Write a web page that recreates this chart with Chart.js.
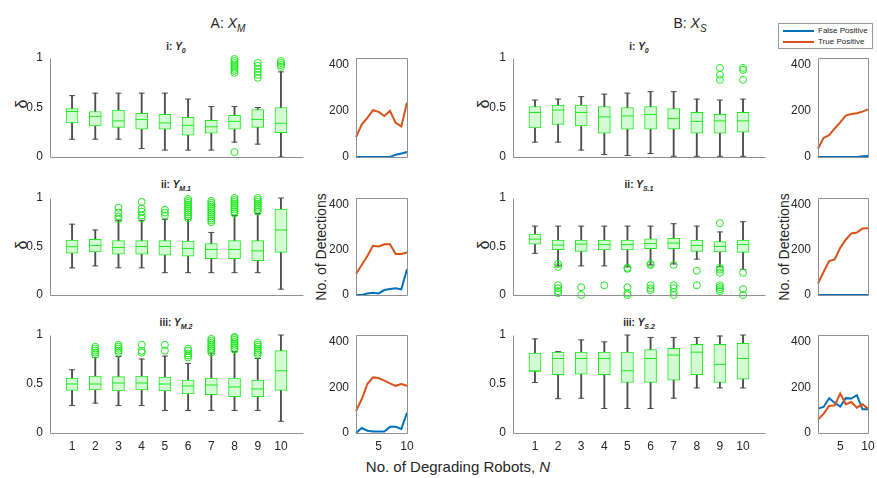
<!DOCTYPE html>
<html lang="en">
<head>
<meta charset="UTF-8">
<title>Degrading robots</title>
<script src="https://cdn.jsdelivr.net/npm/chart.js"></script>
<style>
  body { margin: 0; background: #fff; font-family: "Liberation Sans", Arial, sans-serif; color: #262626; }
  #fig { position: relative; width: 877px; height: 478px; overflow: hidden; }
  #fig canvas { position: absolute; }
  .txt { position: absolute; white-space: nowrap; line-height: 1; }
  .main { font-size: 14px; transform: translateX(-50%); }
  .sub { font-size: 10px; font-weight: bold; transform: translateX(-50%); }
  .rot { transform: translate(-50%, -50%) rotate(-90deg); }
  .legend { position: absolute; left: 778px; top: 23px; width: 93px; height: 24px; border: 1px solid #999; background: #fff; font-size: 8px; }
  .legend .row { position: absolute; left: 4px; height: 10px; }
  .legend .sw { position: absolute; left: 0; top: 4px; width: 31px; height: 2px; }
  .legend .lb { position: absolute; left: 35px; top: 0; white-space: nowrap; }
</style>
</head>
<body>
<div id="fig">
  <div class="txt main" style="left:228px; top:16px;">A: <i>X</i><sub style="font-size:10px"><i>M</i></sub></div>
  <div class="txt main" style="left:690px; top:16px;">B: <i>X</i><sub style="font-size:10px"><i>S</i></sub></div>

  <div class="txt sub" style="left:176px; top:42px;">i: <i>Y</i><sub style="font-size:7px"><i>0</i></sub></div>
  <div class="txt sub" style="left:176px; top:180px;">ii: <i>Y</i><sub style="font-size:7px"><i>M.1</i></sub></div>
  <div class="txt sub" style="left:176px; top:318px;">iii: <i>Y</i><sub style="font-size:7px"><i>M.2</i></sub></div>
  <div class="txt sub" style="left:639px; top:42px;">i: <i>Y</i><sub style="font-size:7px"><i>0</i></sub></div>
  <div class="txt sub" style="left:639px; top:180px;">ii: <i>Y</i><sub style="font-size:7px"><i>S.1</i></sub></div>
  <div class="txt sub" style="left:639px; top:318px;">iii: <i>Y</i><sub style="font-size:7px"><i>S.2</i></sub></div>

  <div class="txt rot" style="left:22px; top:104px; font-size:16px;">δ</div>
  <div class="txt rot" style="left:22px; top:245px; font-size:16px;">δ</div>
  <div class="txt rot" style="left:484px; top:104px; font-size:16px;">δ</div>
  <div class="txt rot" style="left:484px; top:245px; font-size:16px;">δ</div>

  <div class="txt rot" style="left:321px; top:247px; font-size:14px;">No. of Detections</div>
  <div class="txt rot" style="left:784px; top:247px; font-size:14px;">No. of Detections</div>

  <div class="txt" style="left:458px; top:459px; font-size:15px; transform:translateX(-50%);">No. of Degrading Robots, <i>N</i></div>

  <div class="legend">
    <div class="row" style="top:2px;"><div class="sw" style="background:#0072BD"></div><div class="lb">False Positive</div></div>
    <div class="row" style="top:13px;"><div class="sw" style="background:#D95319"></div><div class="lb">True Positive</div></div>
  </div>
</div>

<script>
    // number of degrading robots (x values of every panel)
    const robots = [1, 2, 3, 4, 5, 6, 7, 8, 9, 10];

    // box stats per N: [lower whisker, q1, median, q3, upper whisker]
    const boxA1 = [[0.18,0.345,0.46,0.49,0.62],[0.18,0.315,0.41,0.46,0.645],[0.18,0.30,0.365,0.475,0.645],[0.085,0.28,0.38,0.44,0.645],[0.07,0.28,0.345,0.43,0.645],
                   [0.07,0.22,0.32,0.40,0.585],[0.07,0.24,0.305,0.37,0.51],[0.15,0.28,0.36,0.42,0.51],[0.13,0.30,0.38,0.48,0.50],[0.0,0.245,0.34,0.50,0.86]];
    const boxA2 = [[0.28,0.43,0.497,0.565,0.73],[0.30,0.445,0.51,0.575,0.67],[0.28,0.42,0.49,0.56,0.77],[0.28,0.42,0.50,0.56,0.77],[0.23,0.41,0.50,0.56,0.78],
                   [0.23,0.40,0.48,0.555,0.78],[0.23,0.375,0.47,0.53,0.645],[0.23,0.375,0.47,0.56,0.82],[0.23,0.355,0.455,0.56,0.84],[0.06,0.44,0.67,0.885,1.0]];
    const boxA3 = [[0.28,0.435,0.50,0.56,0.645],[0.305,0.44,0.50,0.58,0.77],[0.28,0.43,0.51,0.575,0.78],[0.28,0.44,0.51,0.58,0.755],[0.23,0.43,0.50,0.57,0.785],
                   [0.23,0.40,0.48,0.54,0.71],[0.23,0.39,0.49,0.56,0.815],[0.23,0.37,0.47,0.56,0.83],[0.23,0.37,0.45,0.54,0.76],[0.12,0.435,0.635,0.84,1.0]];
    const boxB1 = [[0.15,0.295,0.45,0.51,0.575],[0.15,0.33,0.475,0.525,0.585],[0.07,0.315,0.45,0.525,0.61],[0.025,0.24,0.405,0.51,0.635],[0.015,0.28,0.415,0.50,0.645],
                   [0.035,0.28,0.43,0.51,0.66],[0.007,0.28,0.39,0.49,0.66],[0.007,0.24,0.36,0.45,0.585],[0.007,0.24,0.365,0.43,0.575],[0.007,0.25,0.365,0.45,0.585]];
    const boxB2 = [[0.43,0.525,0.576,0.627,0.71],[0.30,0.468,0.515,0.566,0.71],[0.30,0.45,0.525,0.566,0.71],[0.30,0.465,0.52,0.566,0.71],[0.29,0.465,0.52,0.566,0.71],
                   [0.31,0.478,0.53,0.58,0.71],[0.32,0.478,0.535,0.583,0.735],[0.37,0.45,0.51,0.566,0.71],[0.29,0.445,0.50,0.55,0.65],[0.265,0.44,0.52,0.566,0.755]];
    const boxB3 = [[0.515,0.63,0.63,0.815,0.96],[0.35,0.595,0.76,0.825,0.83],[0.355,0.60,0.76,0.825,0.95],[0.25,0.595,0.76,0.825,0.93],[0.25,0.515,0.635,0.825,1.0],
                   [0.25,0.515,0.76,0.85,0.975],[0.355,0.54,0.795,0.865,0.975],[0.46,0.595,0.825,0.905,0.975],[0.46,0.515,0.70,0.905,0.99],[0.46,0.55,0.76,0.915,1.0]];

    // outliers per N
    const outA1 = [[],[],[],[],[],[],[],[0.05,0.85,0.87,0.89,0.91,0.93,0.95,0.97,0.99],[0.80,0.83,0.86,0.89,0.92,0.95],[0.91,0.93,0.95,0.97]];
    const outA2 = [[],[],[0.78,0.81,0.85,0.90],[0.79,0.82,0.86,0.89,0.96],[0.82,0.85,0.88],[0.79,0.81,0.83,0.85,0.87,0.89,0.91,0.93,0.95,0.97,0.99],
                   [0.75,0.77,0.79,0.81,0.83,0.85,0.87,0.89,0.91,0.93,0.95,0.97],[0.84,0.86,0.88,0.90,0.92,0.94,0.96,0.98,1.0],[0.86,0.88,0.90,0.92,0.94,0.96,0.98,1.0],[]];
    const outA3 = [[],[0.80,0.82,0.84,0.86,0.88],[0.82,0.84,0.86,0.88,0.90],[0.82,0.84,0.90],[0.84,0.90],[0.77,0.79,0.81,0.84,0.86],
                   [0.82,0.84,0.86,0.88,0.90,0.92,0.94,0.96],[0.85,0.87,0.89,0.91,0.93,0.95,0.97,0.98],[0.80,0.82,0.84,0.86,0.88,0.90,0.92],[]];
    const outB1 = [[],[],[],[],[],[],[],[],[0.78,0.83,0.90],[0.78,0.88,0.90]];
    const outB2 = [[],[0.32,0.29,0.10,0.07,0.04,0.02],[0.08,0.0],[0.10],[0.28,0.27,0.08,0.02,0.0],[0.32,0.31,0.10,0.07,0.05],
                   [0.31,0.10,0.07,0.03,0.0],[0.25,0.10],[0.74,0.28,0.26,0.23,0.10,0.08,0.06,0.04],[0.23,0.06,0.0]];
    const outB3 = [[],[],[],[],[],[],[],[],[],[]];

    // number of detections per N
    const fpA1 = [0, 0, 0, 0, 0, 0, 0, 10, 15, 22];
    const tpA1 = [86, 141, 170, 203, 196, 178, 200, 148, 133, 237];
    const fpA2 = [0, 0, 7, 10, 7, 22, 27, 30, 25, 114];
    const tpA2 = [93, 133, 173, 218, 215, 225, 225, 182, 182, 188];
    const fpA3 = [0, 22, 10, 7, 7, 7, 27, 27, 18, 89];
    const tpA3 = [96, 148, 215, 244, 241, 230, 218, 207, 215, 207];
    const fpB1 = [0, 0, 0, 0, 0, 0, 0, 0, 3, 4];
    const tpB1 = [36, 83, 95, 124, 150, 180, 187, 190, 197, 207];
    const fpB2 = [0, 0, 0, 0, 0, 0, 0, 0, 0, 0];
    const tpB2 = [51, 102, 150, 158, 209, 245, 273, 277, 295, 296];
    const fpB3 = [107, 114, 153, 133, 116, 153, 151, 166, 104, 104];
    const tpB3 = [59, 84, 119, 121, 173, 126, 136, 111, 126, 107];

    const GREEN = '#1fe81f';
    const FILL = '#d4fcd4';
    const WHISK = '#4d4d4d';
    const AXIS = '#8f8f8f';
    const TICKFONT = { family: '"Liberation Sans", Arial, sans-serif', size: 12 };

    // canvas with fixed margins so the plot area lands where we want it
    function addCanvas(left, top, w, h) {
        const cv = document.createElement('canvas');
        cv.width = w + 54;
        cv.height = h + 34;
        cv.style.left = (left - 44) + 'px';
        cv.style.top = (top - 8) + 'px';
        document.getElementById('fig').appendChild(cv);
        return cv;
    }

    function axes(xmin, xmax, xticks, ymax, yticks, showX) {
        return {
            x: {
                type: 'linear', min: xmin, max: xmax, offset: false,
                grid: { display: false, drawTicks: false }, border: { display: false },
                afterFit: s => { s.height = 26; s.paddingLeft = 0; s.paddingRight = 0; },
                afterBuildTicks: s => { s.ticks = xticks.map(v => ({ value: v })); },
                ticks: { display: showX, padding: 6, color: '#262626', font: TICKFONT, autoSkip: false, maxRotation: 0, callback: v => String(v) }
            },
            y: {
                min: 0, max: ymax,
                grid: { display: false, drawTicks: false }, border: { display: false },
                afterFit: s => { s.width = 44; s.paddingTop = 0; s.paddingBottom = 0; },
                afterBuildTicks: s => { s.ticks = yticks.map(v => ({ value: v })); },
                ticks: { padding: 7, color: '#262626', font: TICKFONT, callback: v => String(v) }
            }
        };
    }

    // axis lines: left + bottom for the box plots, full box for detection panels
    function axisLines(full) {
        return {
            id: 'axisLines',
            afterDraw(chart) {
                const a = chart.chartArea, ctx = chart.ctx;
                const l = Math.round(a.left) + 0.5, r = Math.round(a.right) + 0.5;
                const t = Math.round(a.top) + 0.5, b = Math.round(a.bottom) + 0.5;
                ctx.save();
                ctx.strokeStyle = AXIS;
                ctx.lineWidth = 1;
                ctx.beginPath();
                if (full) {
                    ctx.rect(l, t, r - l, b - t);
                } else {
                    ctx.moveTo(l, t);
                    ctx.lineTo(l, b);
                    ctx.lineTo(r, b);
                }
                ctx.stroke();
                ctx.restore();
            }
        };
    }

    function boxChart(left, top, w, h, box, out, showX) {
        const cv = addCanvas(left, top, w, h);
        new Chart(cv, {
            type: 'bar',
            data: {
                datasets: [
                    { type: 'line', data: out.flatMap((o, i) => o.map(v => ({ x: robots[i], y: v }))), showLine: false,
                      pointStyle: 'circle', pointRadius: 3.5, pointBorderColor: GREEN, pointBackgroundColor: 'rgba(0,0,0,0)', pointBorderWidth: 1, order: 0, clip: false },
                    { type: 'line', data: box.map((b, i) => ({ x: robots[i], y: b[2] })), showLine: false,
                      pointStyle: 'line', pointRadius: 6, pointBorderColor: GREEN, pointBorderWidth: 1, order: 0, clip: false },
                    { type: 'line', data: box.flatMap((b, i) => [{ x: robots[i], y: b[0] }, { x: robots[i], y: b[4] }]), showLine: false,
                      pointStyle: 'line', pointRadius: 3, pointBorderColor: WHISK, pointBorderWidth: 1, order: 0, clip: false },
                    { type: 'bar', data: box.map((b, i) => ({ x: robots[i], y: [b[1], b[3]] })), backgroundColor: FILL, borderColor: GREEN,
                      borderWidth: 1, borderSkipped: false, barThickness: 12, grouped: false, order: 1 },
                    { type: 'bar', data: box.map((b, i) => ({ x: robots[i], y: [b[0], b[4]] })), backgroundColor: WHISK,
                      barThickness: 1.2, grouped: false, order: 2 }
                ]
            },
            options: {
                responsive: false, animation: false, devicePixelRatio: 1,
                layout: { padding: { top: 8, right: 10 } },
                plugins: { legend: { display: false }, tooltip: { enabled: false } },
                scales: axes(0.05, 10.95, robots, 1, [0, 0.5, 1], showX)
            },
            plugins: [axisLines(false)]
        });
    }

    function lineChart(left, top, w, h, fp, tp, showX) {
        const cv = addCanvas(left, top, w, h);
        new Chart(cv, {
            type: 'line',
            data: {
                datasets: [
                    { label: 'True Positive', data: robots.map((n, i) => ({ x: n, y: tp[i] })), borderColor: '#D95319', borderWidth: 2, pointRadius: 0, clip: false },
                    { label: 'False Positive', data: robots.map((n, i) => ({ x: n, y: fp[i] })), borderColor: '#0072BD', borderWidth: 2, pointRadius: 0, clip: false }
                ]
            },
            options: {
                responsive: false, animation: false, devicePixelRatio: 1,
                layout: { padding: { top: 8, right: 10 } },
                plugins: { legend: { display: false }, tooltip: { enabled: false } },
                scales: axes(1, 10, [5, 10], 430, [0, 200, 400], showX)
            },
            plugins: [axisLines(true)]
        });
    }

    boxChart(50, 58, 253, 99, boxA1, outA1, false);
    boxChart(50, 198, 253, 97, boxA2, outA2, false);
    boxChart(50, 335, 253, 98, boxA3, outA3, true);
    boxChart(513, 58, 252, 99, boxB1, outB1, false);
    boxChart(513, 198, 252, 97, boxB2, outB2, false);
    boxChart(513, 335, 252, 98, boxB3, outB3, true);

    lineChart(356, 58, 51, 99, fpA1, tpA1, false);
    lineChart(356, 198, 51, 97, fpA2, tpA2, false);
    lineChart(356, 335, 51, 98, fpA3, tpA3, true);
    lineChart(818, 58, 50, 99, fpB1, tpB1, false);
    lineChart(818, 198, 50, 97, fpB2, tpB2, false);
    lineChart(818, 335, 50, 98, fpB3, tpB3, true);
</script>
</body>
</html>
